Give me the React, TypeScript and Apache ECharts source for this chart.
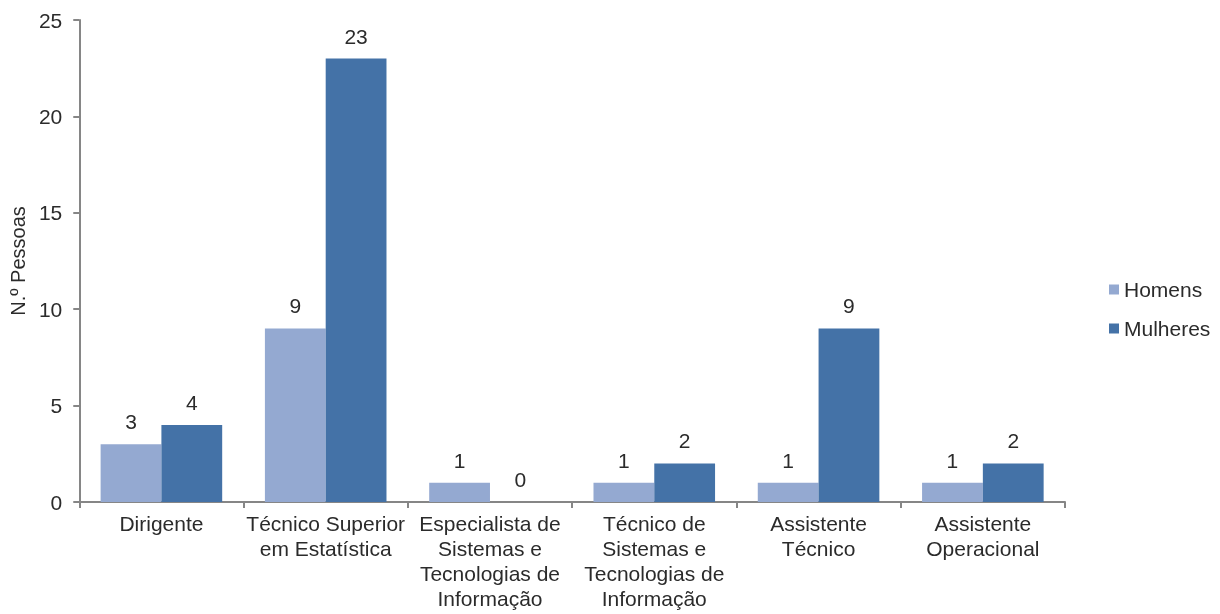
import React, { useEffect, useRef } from "react";
import * as echarts from "echarts";

const categories = [
  "Dirigente",
  "Técnico Superior\nem Estatística",
  "Especialista de\nSistemas e\nTecnologias de\nInformação",
  "Técnico de\nSistemas e\nTecnologias de\nInformação",
  "Assistente\nTécnico",
  "Assistente\nOperacional",
];
const homens = [3, 9, 1, 1, 1, 1];
const mulheres = [4, 23, 0, 2, 9, 2];
const yTicks = { min: 0, max: 25, interval: 5 };

const FONT = "Liberation Sans, Arial, sans-serif";
const TEXT = "#2b2b2b";
const AXIS = "#868686";

export default function App() {
  const ref = useRef<HTMLDivElement>(null);
  useEffect(() => {
    if (!ref.current) return;
    const chart = echarts.init(ref.current, undefined, { renderer: "svg" });
    const label = {
      show: true,
      position: "top",
      distance: 12,
      color: TEXT,
      fontSize: 21,
      fontFamily: FONT,
    };
    chart.setOption({
      animation: false,
      textStyle: { fontFamily: FONT, color: TEXT },
      grid: { left: 79, right: 155, top: 20, bottom: 112, containLabel: false },
      legend: {
        orient: "vertical",
        left: 1104,
        top: 274,
        itemWidth: 10,
        itemHeight: 10,
        itemGap: 18,
        icon: "rect",
        textStyle: { fontSize: 21, color: TEXT, fontFamily: FONT },
        data: ["Homens", "Mulheres"],
      },
      xAxis: {
        type: "category",
        data: categories,
        axisLine: { lineStyle: { color: AXIS, width: 2 } },
        axisTick: { show: true, length: 6, lineStyle: { color: AXIS, width: 2 } },
        axisLabel: {
          interval: 0,
          color: TEXT,
          fontSize: 21,
          fontFamily: FONT,
          lineHeight: 25,
          margin: 9,
        },
      },
      yAxis: {
        type: "value",
        min: yTicks.min,
        max: yTicks.max,
        interval: yTicks.interval,
        name: "N.º Pessoas",
        nameLocation: "middle",
        nameGap: 50,
        nameRotate: 90,
        nameTextStyle: { fontSize: 20, color: TEXT, fontFamily: FONT },
        axisLine: { show: true, lineStyle: { color: AXIS, width: 2 } },
        axisTick: { show: true, length: 6, lineStyle: { color: AXIS, width: 2 } },
        splitLine: { show: false },
        axisLabel: { color: TEXT, fontSize: 21, fontFamily: FONT, margin: 17 },
      },
      series: [
        {
          name: "Homens",
          type: "bar",
          data: homens,
          barWidth: "37%",
          barGap: "0%",
          itemStyle: { color: "#94A9D1" },
          label,
        },
        {
          name: "Mulheres",
          type: "bar",
          data: mulheres,
          barWidth: "37%",
          barGap: "0%",
          itemStyle: { color: "#4472A7" },
          label,
        },
      ],
    });
    return () => chart.dispose();
  }, []);
  return (
    <div
      ref={ref}
      style={{ position: "fixed", left: 0, top: 0, width: 1220, height: 614 }}
    />
  );
}
